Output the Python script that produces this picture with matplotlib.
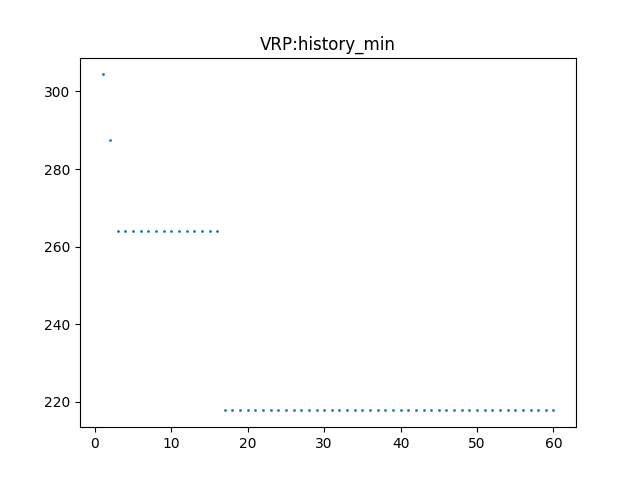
import matplotlib
matplotlib.use("Agg")
import matplotlib.pyplot as plt

iterations = list(range(1, 61))
history_min = ([304.4, 287.6] + [264.1] * 14 + [217.8] * 44)

fig, ax = plt.subplots(figsize=(6.4, 4.8), dpi=100)
ax.scatter(iterations, history_min, s=1)
ax.set_title("VRP:history_min")
fig.savefig("out.png")
